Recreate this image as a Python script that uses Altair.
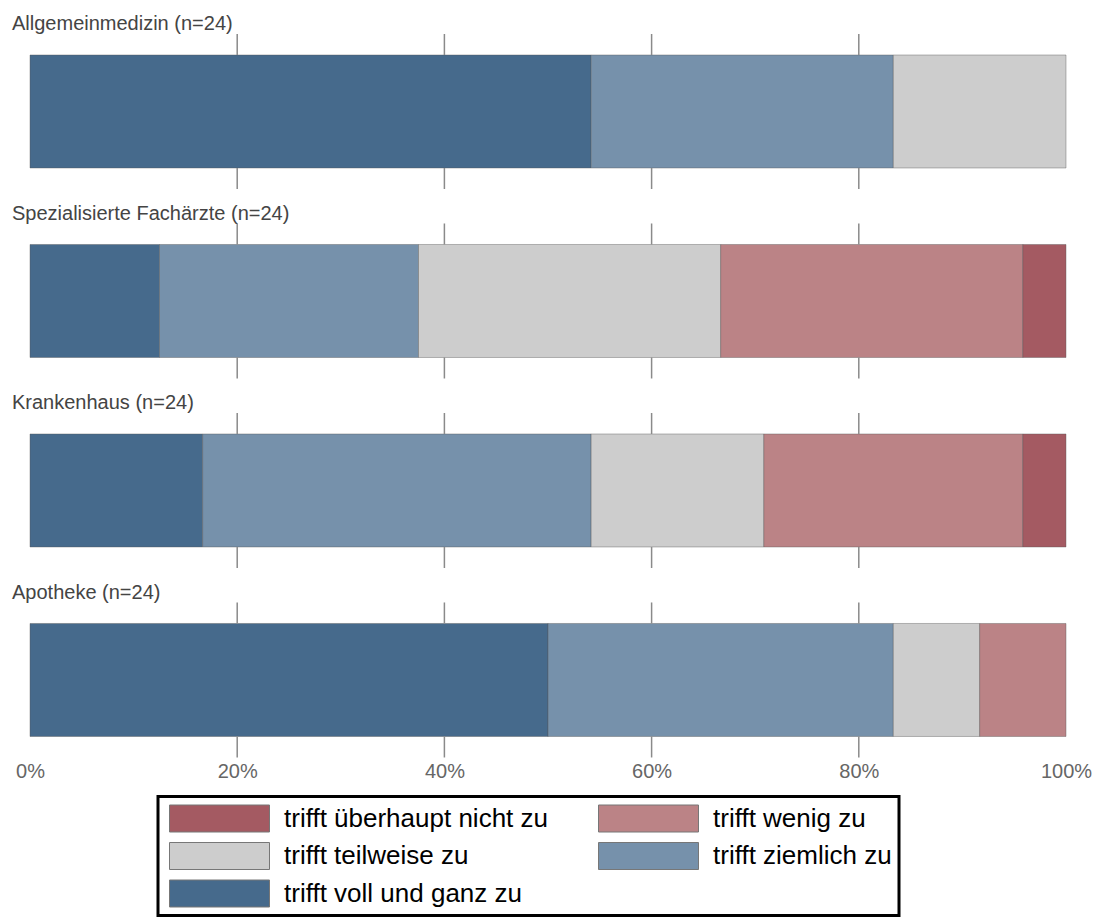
import altair as alt
import pandas as pd

categories = ["Allgemeinmedizin (n=24)", "Spezialisierte Fachärzte (n=24)",
              "Krankenhaus (n=24)", "Apotheke (n=24)"]
responses = ["trifft voll und ganz zu", "trifft ziemlich zu", "trifft teilweise zu",
             "trifft wenig zu", "trifft überhaupt nicht zu"]
voll = [13, 3, 4, 12]
ziemlich = [7, 6, 9, 8]
teilweise = [4, 7, 4, 2]
wenig = [0, 7, 6, 2]
ueberhaupt = [0, 1, 1, 0]
colors = ["#466a8c", "#7691ab", "#cdcdcd", "#bb8386", "#a45a62"]
tick_values = [0.2, 0.4, 0.6, 0.8]
axis_values = [0, 0.2, 0.4, 0.6, 0.8, 1.0]

series = [voll, ziemlich, teilweise, wenig, ueberhaupt]
rows = []
for i, cat in enumerate(categories):
    for r, (resp, vals) in enumerate(zip(responses, series)):
        if vals[i] > 0:
            rows.append({"cat": cat, "resp": resp, "rank": r, "n": vals[i]})
df = pd.DataFrame(rows)
lab_df = pd.DataFrame({"cat": categories})
tick_df = pd.DataFrame([{"cat": c, "tv": t} for c in categories for t in tick_values])

# legend entries are laid out column by column (3 rows x 2 columns)
legend_pos = [4, 2, 0, 3, 1]
legend_order = [responses[k] for k in legend_pos]
legend_colors = [colors[k] for k in legend_pos]

yscale = alt.Scale(domain=categories, paddingInner=0.4037, paddingOuter=0.194, align=0.748)
xscale = alt.Scale(domain=[0, 1], nice=False)
xaxis = alt.Axis(format=".0%", values=axis_values, domain=False, ticks=False, grid=False,
                 labelFontSize=20, labelColor="#666666", labelPadding=6, labelFlush=False,
                 labelFont="Liberation Sans", title=None)

bars = alt.Chart(df).mark_bar(stroke="#555555", strokeWidth=0.8, strokeOpacity=0.5).encode(
    x=alt.X("n:Q", stack="normalize", scale=xscale, axis=xaxis),
    y=alt.Y("cat:N", scale=yscale, axis=None),
    color=alt.Color("resp:N", scale=alt.Scale(domain=legend_order, range=legend_colors),
                    legend=alt.Legend(title=None, orient="none", legendX=128, legendY=796.5,
                                      columns=2, columnPadding=45, rowPadding=7.5,
                                      symbolType="M-1,-0.27H1V0.27H-1Z", symbolSize=10000,
                                      symbolStrokeColor="#777777", symbolStrokeWidth=1,
                                      symbolOffset=4, labelOffset=14, clipHeight=30,
                                      labelFontSize=26, labelFont="Liberation Sans",
                                      labelColor="#000000", labelLimit=500,
                                      padding=7, strokeColor="#000000", fillColor="#ffffff")),
    order=alt.Order("rank:Q"),
)

rules_top = alt.Chart(tick_df).mark_rule(color="#8a8a8a", strokeWidth=1.5, yOffset=-77.5, y2Offset=-56.5).encode(
    x=alt.X("tv:Q", scale=xscale, axis=xaxis),
    y=alt.Y("cat:N", scale=yscale, axis=None),
    y2="cat",
)
rules_bot = alt.Chart(tick_df).mark_rule(color="#8a8a8a", strokeWidth=1.5, yOffset=56.5, y2Offset=77.5).encode(
    x=alt.X("tv:Q", scale=xscale, axis=xaxis),
    y=alt.Y("cat:N", scale=yscale, axis=None),
    y2="cat",
)

labels = alt.Chart(lab_df).mark_text(align="left", baseline="alphabetic", dx=-18, dy=-81,
                                     fontSize=20, font="Liberation Sans", color="#444444").encode(
    x=alt.value(0),
    y=alt.Y("cat:N", scale=yscale, axis=None),
    text="cat:N",
)

chart = alt.layer(bars, rules_top, rules_bot, labels).properties(
    width=1036, height=755,
    autosize=alt.AutoSizeParams(type="none"),
    padding={"left": 30, "top": 0, "right": 33, "bottom": 162},
).configure_view(stroke=None).configure_legend(strokeWidth=3)

chart.save("out.html", embed_options={"renderer": "svg", "actions": False})
